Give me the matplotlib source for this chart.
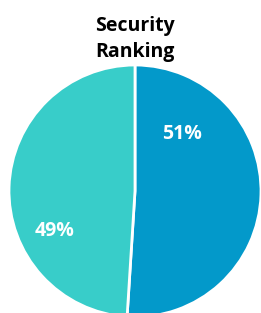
import matplotlib.pyplot as plt

labels = ["Blue", "Turquoise"]
shares = [51, 49]
colors = ["#0399CA", "#38CDC9"]
# label spots (axes data units, pie radius = 1)
label_xy = [(0.37, 0.45), (-0.64, -0.32)]

fig = plt.figure(figsize=(2.61, 3.13), dpi=100)
ax = fig.add_axes([9 / 261, -4 / 313, 252 / 261, 252 / 313])
ax.pie(shares, colors=colors, startangle=90, counterclock=False, radius=1,
       wedgeprops=dict(edgecolor="white", linewidth=2))
for v, (x, y) in zip(shares, label_xy):
    ax.text(x, y, f"{v}%", color="white", fontsize=14, fontweight="bold",
            family="Open Sans", ha="center", va="center")
ax.set_xlim(-1, 1)
ax.set_ylim(-1, 1)
ax.axis("off")

fig.text(135 / 261, 1 - 39 / 313, "Security\nRanking", ha="center", va="center",
         fontsize=14, fontweight="bold", family="Open Sans", linespacing=1.45)

fig.savefig("out.png", dpi=100)
